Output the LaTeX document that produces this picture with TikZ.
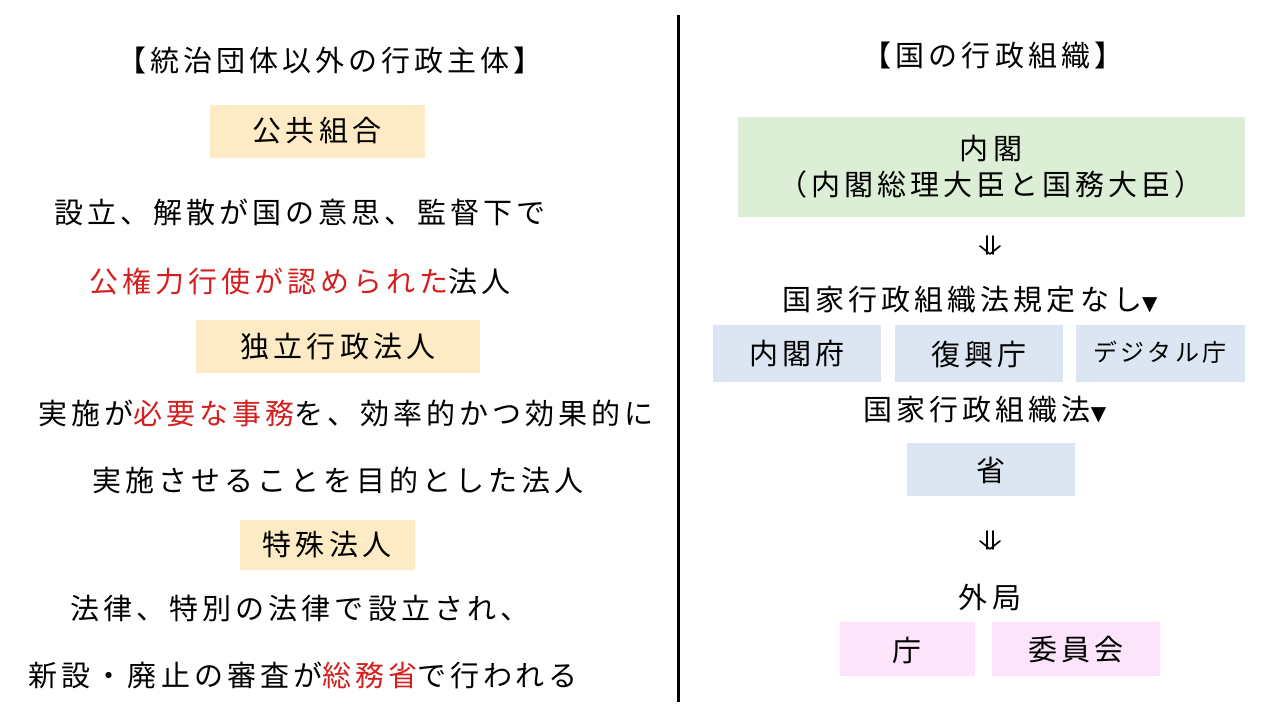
\documentclass[tikz,border=0pt]{standalone}
\usepackage{fontspec}
\setmainfont[LetterSpace=14]{Noto Sans CJK JP}
\newfontfamily\dv{DejaVu Sans}
\begin{document}
\begin{tikzpicture}[x=1pt,y=-1pt,
  txt/.style={font=\fontsize{29}{36}\selectfont, inner sep=0pt},
  dar/.style={line width=1.6pt, line cap=round, line join=round}]
\definecolor{yel}{HTML}{FCEBC4}
\definecolor{grn}{HTML}{DDEED6}
\definecolor{blu}{HTML}{DCE6F2}
\definecolor{pnk}{HTML}{FCE4FA}
\definecolor{rd}{HTML}{D42020}
\useasboundingbox (0,0) rectangle (1280,720);
\fill[white] (0,0) rectangle (1280,720);
% left
\node[txt] (lt) at (330,60) {【統治団体以外の行政主体】};
\fill[yel] (210,105) rectangle (425,158);
\node[txt] (b1) at (317,131) {公共組合};
\node[txt] (l1) at (300,212) {設立、解散が国の意思、監督下で};
\node[txt] (l2) at (300,281) {\textcolor{rd}{公権力行使が認められた}法人};
\fill[yel] (196,320) rectangle (480,373);
\node[txt] (b2) at (338,347) {独立行政法人};
\node[txt] (l3) at (346,413) {実施が\textcolor{rd}{必要な事務}を、効率的かつ効果的に};
\node[txt] (l4) at (338,480) {実施させることを目的とした法人};
\fill[yel] (240,520) rectangle (415,570);
\node[txt] (b3) at (327,545) {特殊法人};
\node[txt] (l5) at (300,608) {法律、特別の法律で設立され、};
\node[txt] (l6) at (303,675) {新設・廃止の審査が\textcolor{rd}{総務省}で行われる};
% divider
\draw[line width=3pt] (678,15) -- (678,702);
% right
\node[txt] (rt) at (993,55) {【国の行政組織】};
\fill[grn] (738,117) rectangle (1245,217);
\node[txt, align=center] (nk) at (991,167) {内閣\\（内閣総理大臣と国務大臣）};
\coordinate (a1) at (990,236);
\draw[dar] (a1) ++(-3,0) -- ++(0,18);
\draw[dar] (a1) ++(3,0) -- ++(0,18);
\draw[dar] (a1) ++(-10,10) -- ++(10,8) -- ++(10,-8);
\node[txt] (h1) at (970,300) {国家行政組織法規定なし{\dv\fontsize{20}{24}\selectfont ▼}};
\fill[blu] (713,325) rectangle (881,382);
\node[txt] (c1) at (797,354) {内閣府};
\fill[blu] (895,325) rectangle (1063,382);
\node[txt] (c2) at (979,354) {復興庁};
\fill[blu] (1076,325) rectangle (1245,382);
\node[txt, font=\fontsize{24}{28}\selectfont] (c3) at (1160,352) {デジタル庁};
\node[txt] (h2) at (985,410) {国家行政組織法{\dv\fontsize{20}{24}\selectfont ▼}};
\fill[blu] (907,443) rectangle (1075,496);
\node[txt] (s) at (991,470) {省};
\coordinate (a2) at (990,531);
\draw[dar] (a2) ++(-3,0) -- ++(0,18);
\draw[dar] (a2) ++(3,0) -- ++(0,18);
\draw[dar] (a2) ++(-10,10) -- ++(10,8) -- ++(10,-8);
\node[txt] (gk) at (990,597) {外局};
\fill[pnk] (840,622) rectangle (975,676);
\node[txt] (p1) at (907,650) {庁};
\fill[pnk] (992,622) rectangle (1160,676);
\node[txt] (p2) at (1076,650) {委員会};
\end{tikzpicture}
\end{document}
